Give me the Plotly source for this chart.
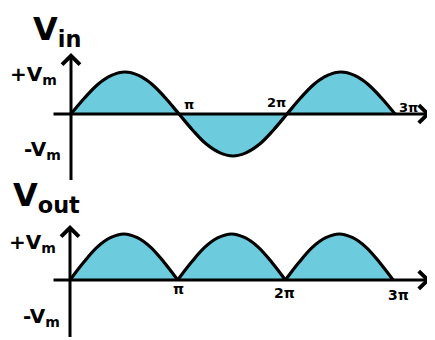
import plotly.graph_objects as go

# ---------------- data (x in multiples of pi) ----------------
phase = [0, 0.125, 0.25, 0.375, 0.5, 0.625, 0.75, 0.875,
         1.0, 1.125, 1.25, 1.375, 1.5, 1.625, 1.75, 1.875,
         2.0, 2.125, 2.25, 2.375, 2.5, 2.625, 2.75, 2.875, 3.0]
v_in = [0, 0.38, 0.71, 0.92, 1.0, 0.92, 0.71, 0.38,
        0, -0.38, -0.71, -0.92, -1.0, -0.92, -0.71, -0.38,
        0, 0.38, 0.71, 0.92, 1.0, 0.92, 0.71, 0.38, 0]
v_out = [0, 0.38, 0.71, 0.92, 1.0, 0.92, 0.71, 0.38,
         0, 0.38, 0.71, 0.92, 1.0, 0.92, 0.71, 0.38,
         0, 0.38, 0.71, 0.92, 1.0, 0.92, 0.71, 0.38, 0]
tick_vals = [1, 2, 3]
tick_text = ["π", "2π", "3π"]
level_vals = [1, -1]
level_text = ["+V<sub>m</sub>", "-V<sub>m</sub>"]
titles = ["V<sub>in</sub>", "V<sub>out</sub>"]

# ---------------- style ----------------
PAGE = 8                   # default body margin of the html page
W, H = 435 - PAGE, 340 - PAGE
FILL = "#6ccbdc"
INK = "#000000"
FONT = "DejaVu Sans"

def fx(px):
    return px - PAGE

def fy(py):
    return py - PAGE

fig = go.Figure()

# top panel: input sine
fig.add_trace(go.Scatter(x=phase, y=v_in, mode="lines", line=dict(color=INK, width=3.2, shape="spline"),
                         fill="tozeroy", fillcolor=FILL, xaxis="x", yaxis="y", hoverinfo="skip"))

# bottom panel: rectified output, one hump per half period
seg = []
for i, (p, v) in enumerate(zip(phase, v_out)):
    seg.append((p, v))
    if (v == 0 and len(seg) > 1) or i == len(phase) - 1:
        fig.add_trace(go.Scatter(x=[s[0] for s in seg], y=[s[1] for s in seg], mode="lines",
                                 line=dict(color=INK, width=3.2, shape="spline"),
                                 fill="tozeroy", fillcolor=FILL, xaxis="x2", yaxis="y2",
                                 hoverinfo="skip"))
        seg = [(p, v)]

# axis calibration in figure pixels
x1_0, x1_s = fx(71), 108.0     # top: px of 0, px per pi
x2_0, x2_s = fx(70), 107.7     # bottom
y1_0, y1_a, y1_top, y1_bot = fy(114), 42.0, 0, fy(186)
y2_0, y2_a, y2_top, y2_bot = fy(280), 46.0, fy(170), H

xr1 = [-x1_0 / x1_s, (W - x1_0) / x1_s]
xr2 = [-x2_0 / x2_s, (W - x2_0) / x2_s]
yr1 = [-(y1_bot - y1_0) / y1_a, (y1_0 - y1_top) / y1_a]
yr2 = [-(y2_bot - y2_0) / y2_a, (y2_0 - y2_top) / y2_a]

ax_common = dict(visible=False, showgrid=False, zeroline=False, fixedrange=True)
fig.update_layout(
    width=W, height=H, margin=dict(l=0, r=0, t=0, b=0),
    paper_bgcolor="white", plot_bgcolor="rgba(0,0,0,0)", showlegend=False,
    xaxis=dict(range=xr1, domain=[0, 1], anchor="y", **ax_common),
    yaxis=dict(range=yr1, domain=[1 - y1_bot / H, 1], anchor="x", **ax_common),
    xaxis2=dict(range=xr2, domain=[0, 1], anchor="y2", **ax_common),
    yaxis2=dict(range=yr2, domain=[0, 1 - y2_top / H], anchor="x2", **ax_common),
)

ann = []

def arrow(xref, yref, x, y, ax, ay):
    ann.append(dict(xref=xref, yref=yref, axref=xref, ayref=yref, x=x, y=y, ax=ax, ay=ay,
                    text=" ", font=dict(size=1), showarrow=True, arrowhead=4, arrowsize=1.15,
                    arrowwidth=3, arrowcolor=INK, standoff=0, startstandoff=0))

# axes with arrow heads
arrow("x", "y", (fx(430.5) - x1_0) / x1_s, 0, (fx(52) - x1_0) / x1_s, 0)
arrow("x", "y", 0, (y1_0 - fy(53)) / y1_a, 0, (y1_0 - fy(182)) / y1_a)
arrow("x2", "y2", (fx(430.5) - x2_0) / x2_s, 0, (fx(52) - x2_0) / x2_s, 0)
arrow("x2", "y2", 0, (y2_0 - fy(225)) / y2_a, 0, (y2_0 - fy(339)) / y2_a)

# pi tick labels
top_shift = [(10, 10), (-11, 12), (13, 7)]
bot_shift = [(1, -9), (-1, -13), (5, -15)]
for v, t, (dx, dy) in zip(tick_vals, tick_text, top_shift):
    ann.append(dict(xref="x", yref="y", x=v, y=0, text=t, showarrow=False, xshift=dx, yshift=dy,
                    font=dict(family=FONT, size=13, color=INK, weight="bold")))
for v, t, (dx, dy) in zip(tick_vals, tick_text, bot_shift):
    ann.append(dict(xref="x2", yref="y2", x=v, y=0, text=t, showarrow=False, xshift=dx, yshift=dy,
                    font=dict(family=FONT, size=14, color=INK, weight="bold")))

# +Vm / -Vm labels
top_lv = [(-12, -3), (-8, 6)]
bot_lv = [(-12, -9), (-8, 9)]
for v, t, (dx, dy) in zip(level_vals, level_text, top_lv):
    ann.append(dict(xref="x", yref="y", x=0, y=v, text=t, showarrow=False, xanchor="right",
                    xshift=dx, yshift=dy, font=dict(family=FONT, size=20, color=INK, weight="bold")))
for v, t, (dx, dy) in zip(level_vals, level_text, bot_lv):
    ann.append(dict(xref="x2", yref="y2", x=0, y=v, text=t, showarrow=False, xanchor="right",
                    xshift=dx, yshift=dy, font=dict(family=FONT, size=20, color=INK, weight="bold")))

# titles
ann.append(dict(xref="paper", yref="paper", x=fx(31) / W, y=1, text=titles[0],
                showarrow=False, xanchor="left", yanchor="top",
                font=dict(family=FONT, size=32, color=INK, weight="bold")))
ann.append(dict(xref="paper", yref="paper", x=fx(11) / W, y=1 - fy(197) / H, text=titles[1],
                showarrow=False, xanchor="left", yanchor="middle",
                font=dict(family=FONT, size=32, color=INK, weight="bold")))

fig.update_layout(annotations=ann)
fig.write_html("out.html")
